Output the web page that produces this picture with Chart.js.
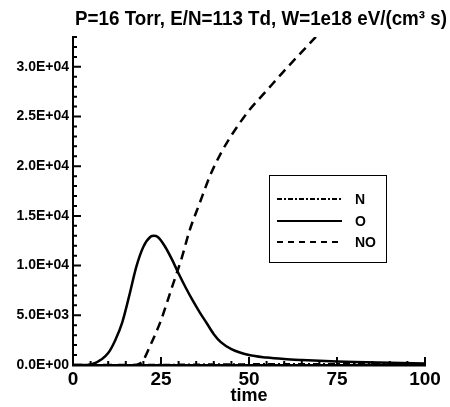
<!DOCTYPE html>
<html>
<head>
<meta charset="utf-8">
<title>P=16 Torr, E/N=113 Td</title>
<script src="https://cdn.jsdelivr.net/npm/chart.js@4.4.0/dist/chart.umd.min.js"></script>
<style>
  body { margin: 0; background: #fff; }
  #wrap { width: 450px; height: 407px; }
</style>
</head>
<body>
<div id="wrap"><canvas id="myChart" width="450" height="407"></canvas></div>
<script>
// species densities vs time
const titleText = 'P=16 Torr, E/N=113 Td, W=1e18 eV/(cm\u00B3 s)';

const oTime = [0, 4, 6, 8, 10, 12, 14, 16, 18, 20, 22, 23, 24, 26, 28, 30, 32, 34, 36, 38, 40, 42, 45, 50, 55, 60, 65, 70, 75, 80, 90, 100];
const oValues = [0, 0, 150, 550, 1200, 2500, 4300, 7000, 9900, 11900, 12900, 13000, 12900, 12000, 10700, 9200, 7800, 6500, 5300, 4200, 3100, 2300, 1600, 1000, 750, 600, 500, 420, 350, 300, 220, 160];

const noTime = [0, 17, 19, 20, 22, 25, 28, 31, 33, 36, 39, 42, 45, 50, 55, 60, 65, 70];
const noValues = [0, 0, 150, 500, 2000, 4500, 7700, 10900, 13400, 16300, 19100, 21300, 23100, 25600, 27600, 29600, 31500, 33400];

const nTime = [0, 10, 20, 30, 40, 50, 60, 70, 80, 90, 100];
const nValues = [0, 0, 10, 40, 70, 90, 100, 100, 100, 100, 100];

const xMajor = [0, 25, 50, 75, 100];
const xMinor = [5, 10, 15, 20, 30, 35, 40, 45, 55, 60, 65, 70, 80, 85, 90, 95];
const yMajor = [0, 5000, 10000, 15000, 20000, 25000, 30000];
const yMinor = [];
for (let v = 1000; v <= 33000; v += 1000) if (v % 5000 !== 0) yMinor.push(v);

function toPoints(xs, ys) {
  return xs.map((x, i) => ({ x: x, y: ys[i] }));
}

function sciLabel(v) {
  const parts = Number(v).toExponential(1).toUpperCase().split('E');
  let exp = parseInt(parts[1], 10);
  const sign = exp < 0 ? '-' : '+';
  exp = Math.abs(exp);
  return parts[0] + 'E' + sign + (exp < 10 ? '0' + exp : exp);
}

// inward tick marks, major and minor
const tickMarks = {
  id: 'tickMarks',
  afterDraw(chart) {
    const ctx = chart.ctx;
    const xs = chart.scales.x, ys = chart.scales.y;
    const a = chart.chartArea;
    ctx.save();
    ctx.strokeStyle = '#000';
    ctx.lineWidth = 2;
    ctx.beginPath();
    xMajor.forEach(v => { const p = xs.getPixelForValue(v); ctx.moveTo(p, a.bottom); ctx.lineTo(p, a.bottom - 8); });
    xMinor.forEach(v => { const p = xs.getPixelForValue(v); ctx.moveTo(p, a.bottom); ctx.lineTo(p, a.bottom - 4); });
    yMajor.forEach(v => { const p = ys.getPixelForValue(v); ctx.moveTo(a.left, p); ctx.lineTo(a.left + 8, p); });
    yMinor.forEach(v => { const p = ys.getPixelForValue(v); ctx.moveTo(a.left, p); ctx.lineTo(a.left + 4, p); });
    ctx.stroke();
    ctx.restore();
  }
};

// title across the top
const topTitle = {
  id: 'topTitle',
  afterDraw(chart) {
    const ctx = chart.ctx;
    ctx.save();
    ctx.fillStyle = '#000';
    ctx.font = 'bold 20px "Liberation Sans", Arial, sans-serif';
    ctx.textAlign = 'center';
    ctx.textBaseline = 'alphabetic';
    ctx.fillText(titleText, 261, 25, 372);
    ctx.restore();
  }
};

// boxed legend inside the plot
const boxLegend = {
  id: 'boxLegend',
  afterDraw(chart) {
    const ctx = chart.ctx;
    const x0 = 269, y0 = 175, w = 117, h = 87;
    const rows = [199, 221, 242];
    ctx.save();
    ctx.fillStyle = '#fff';
    ctx.fillRect(x0, y0, w, h);
    ctx.strokeStyle = '#000';
    ctx.lineWidth = 1;
    ctx.strokeRect(x0 + 0.5, y0 + 0.5, w, h);
    chart.data.datasets.forEach((ds, i) => {
      const y = rows[i];
      ctx.beginPath();
      ctx.lineWidth = 2;
      ctx.setLineDash(ds.legendDash);
      ctx.moveTo(277, y);
      ctx.lineTo(342, y);
      ctx.stroke();
      ctx.setLineDash([]);
      ctx.fillStyle = '#000';
      ctx.font = 'bold 14px "Liberation Sans", Arial, sans-serif';
      ctx.textAlign = 'left';
      ctx.textBaseline = 'middle';
      ctx.fillText(ds.label, 355, y + 1);
    });
    ctx.restore();
  }
};

const ctx = document.getElementById('myChart').getContext('2d');
new Chart(ctx, {
  type: 'line',
  data: {
    datasets: [
      { label: 'N', data: toPoints(nTime, nValues), borderColor: '#000', borderWidth: 2, borderDash: [7, 3, 2, 3], legendDash: [5, 2, 2, 2], pointRadius: 0, fill: false, cubicInterpolationMode: 'monotone' },
      { label: 'O', data: toPoints(oTime, oValues), borderColor: '#000', borderWidth: 2.5, borderDash: [], legendDash: [], pointRadius: 0, fill: false, cubicInterpolationMode: 'monotone' },
      { label: 'NO', data: toPoints(noTime, noValues), borderColor: '#000', borderWidth: 2.5, borderDash: [9, 6], legendDash: [6, 5], pointRadius: 0, fill: false, cubicInterpolationMode: 'monotone' }
    ]
  },
  options: {
    responsive: false,
    animation: false,
    events: [],
    layout: { padding: { top: 37, right: 25, left: 0, bottom: 0 } },
    plugins: { legend: { display: false }, title: { display: false }, tooltip: { enabled: false } },
    scales: {
      x: {
        type: 'linear',
        min: 0,
        max: 100,
        afterBuildTicks: s => { s.ticks = xMajor.map(v => ({ value: v })); },
        afterFit: s => { s.height = 42; },
        grid: { display: false, drawTicks: false },
        border: { display: true, color: '#000', width: 2.5 },
        ticks: { color: '#000', padding: 3, maxRotation: 0, font: { family: '"Liberation Sans", Arial, sans-serif', size: 19, weight: 'bold' } },
        title: { display: true, text: 'time', color: '#000', padding: { top: 0, bottom: 0 }, font: { family: '"Liberation Sans", Arial, sans-serif', size: 18, weight: 'bold' } }
      },
      y: {
        type: 'linear',
        min: 0,
        max: 33000,
        afterBuildTicks: s => { s.ticks = yMajor.map(v => ({ value: v })); },
        afterFit: s => { s.width = 73; },
        grid: { display: false, drawTicks: false },
        border: { display: true, color: '#000', width: 2 },
        ticks: { color: '#000', padding: 4, callback: v => sciLabel(v), font: { family: '"Liberation Sans", Arial, sans-serif', size: 14, weight: 'bold' } }
      }
    }
  },
  plugins: [tickMarks, topTitle, boxLegend]
});
</script>
</body>
</html>
